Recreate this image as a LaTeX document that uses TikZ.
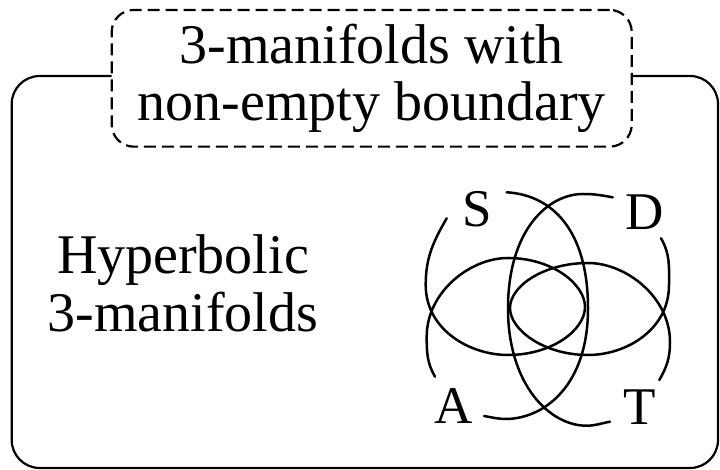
\documentclass[tikz,border=0pt]{standalone}
\usepackage{fontspec}
\setmainfont{Liberation Serif}
\begin{document}
\begin{tikzpicture}[x=1pt,y=1pt,
  fish/.style={line width=2.5pt, line cap=round},
  frameline/.style={line width=2.2pt},
  dashbox/.style={draw, line width=2.2pt, dash pattern=on 12pt off 6pt, rounded corners=22pt,
    minimum width=520pt, minimum height=136.7pt, inner sep=0pt, outer sep=0pt, align=center,
    font=\fontsize{56}{57}\selectfont},
  bigtxt/.style={align=center, inner sep=0pt, font=\fontsize{56}{58}\selectfont},
  lbl/.style={anchor=base, inner sep=0pt, font=\fontsize{53}{60}\selectfont}]
\useasboundingbox (0,0) rectangle (720,470);
% dashed title box
\node[dashbox] (box) at (371.7,391.7) {3-manifolds with\\non-empty boundary};
% outer frame
\draw[frameline, rounded corners=28pt] ([yshift=2.3pt]box.west) -- (11.7,394) -- (11.7,2) -- (718,2) -- (718,394) -- ([yshift=2.3pt]box.east);
% left text
\node[bigtxt] (hyp) at (183,187) {Hyperbolic\\3-manifolds};
% labels
\node[lbl] (S) at (477.5,243) {S};
\node[lbl] (D) at (645,240) {D};
\node[lbl] (A) at (454,46.7) {A};
\node[lbl] (T) at (640,45) {T};
% left loop
\draw[fish] (446.7,251.7) to[out=240,in=90] (425.7,185)
  .. controls (425.7,140) and (470,115) .. (508,115)
  .. controls (552,115) and (585,140) .. (585,163)
  .. controls (585,186) and (552,212) .. (508,212)
  .. controls (470,212) and (426.7,178) .. (426.7,133.3)
  to[out=-90,in=120] (435,93.3);
% right loop
\draw[fish] (661,231.7) to[out=-60,in=90] (669,185)
  .. controls (669,140) and (626,115) .. (588,115)
  .. controls (544,115) and (510,140) .. (510,162)
  .. controls (510,184) and (544,207) .. (588,207)
  .. controls (626,207) and (670,173) .. (670,128)
  to[out=-90,in=60] (659.3,90);
% vertical lens, S to A through the right side
\draw[fish] (506.7,277.7)
  .. controls (552,275) and (588,240) .. (588,161.5)
  .. controls (588,85) and (545,52) .. (507,51)
  to[out=180,in=-10] (484,54);
% vertical lens, D to T through the left side
\draw[fish] (612.7,272.7) to[out=170,in=0] (583,276)
  .. controls (548,276) and (508,240) .. (508,161.5)
  .. controls (508,85) and (550,44) .. (586.7,44.3)
  to[out=0,in=190] (610,48.3);
\end{tikzpicture}
\end{document}
